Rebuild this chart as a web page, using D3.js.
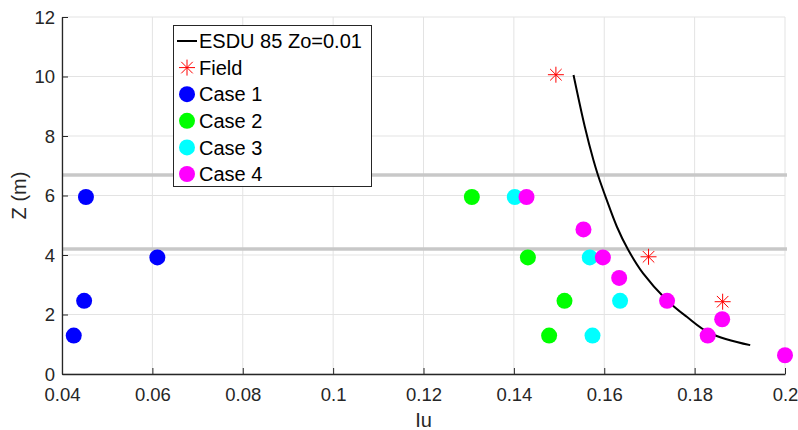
<!DOCTYPE html>
<html>
<head>
<meta charset="utf-8">
<script src="https://cdn.jsdelivr.net/npm/d3@7"></script>
<style>
  html, body { margin: 0; padding: 0; background: #fff; }
  svg { display: block; font-family: "Liberation Sans", Arial, sans-serif; }
</style>
</head>
<body>
<svg id="chart" width="798" height="430"></svg>
<script>
// Turbulence intensity profiles: Iu against height Z
const xTicks = [0.04, 0.06, 0.08, 0.1, 0.12, 0.14, 0.16, 0.18, 0.2];
const yTicks = [0, 2, 4, 6, 8, 10, 12];

// ESDU 85 reference curve (Zo = 0.01)
const esduIu = [0.1532, 0.1557, 0.1576, 0.1586, 0.1605, 0.1628, 0.1652, 0.1686, 0.1738, 0.1782, 0.1834, 0.1923];
const esduZ  = [10.05, 8.31, 7.19, 6.69, 5.87, 4.95, 4.20, 3.38, 2.49, 1.93, 1.37, 0.97];

// Field measurements
const fieldIu = [0.1493, 0.1698, 0.1862];
const fieldZ  = [10.06, 3.94, 2.43];

// Simulation cases
const case1Iu = [0.0453, 0.0611, 0.0449, 0.0426];
const case1Z  = [5.95, 3.92, 2.46, 1.29];
const case2Iu = [0.1307, 0.1431, 0.1512, 0.1478];
const case2Z  = [5.95, 3.92, 2.46, 1.29];
const case3Iu = [0.1402, 0.1568, 0.1635, 0.1574];
const case3Z  = [5.95, 3.92, 2.46, 1.29];
const case4Iu = [0.1428, 0.1554, 0.1597, 0.1633, 0.1739, 0.1861, 0.1829, 0.2000];
const case4Z  = [5.95, 4.86, 3.92, 3.23, 2.46, 1.84, 1.29, 0.63];

// Horizontal reference heights
const refZ = [6.69, 4.2];

const cases = [
  { name: "Case 1", iu: case1Iu, z: case1Z, color: "#0000ff" },
  { name: "Case 2", iu: case2Iu, z: case2Z, color: "#00ff00" },
  { name: "Case 3", iu: case3Iu, z: case3Z, color: "#00ffff" },
  { name: "Case 4", iu: case4Iu, z: case4Z, color: "#ff00ff" }
];

const svg = d3.select("#chart");
const plotL = 62, plotR = 785, plotT = 17, plotB = 374;

const x = d3.scaleLinear().domain([0.04, 0.2]).range([plotL, plotR]);
const y = d3.scaleLinear().domain([0, 12]).range([plotB, plotT]);

const axisColor = "#262626";
const tickFont = 18.5;

// Grid
const grid = svg.append("g");
grid.selectAll("line.gx").data(xTicks).join("line")
  .attr("x1", d => x(d)).attr("x2", d => x(d))
  .attr("y1", plotT).attr("y2", plotB)
  .attr("stroke", "#e3e3e3").attr("stroke-width", 1);
grid.selectAll("line.gy").data(yTicks).join("line")
  .attr("x1", plotL).attr("x2", plotR)
  .attr("y1", d => y(d)).attr("y2", d => y(d))
  .attr("stroke", "#e3e3e3").attr("stroke-width", 1);

// Reference height lines
svg.append("g").selectAll("line").data(refZ).join("line")
  .attr("x1", plotL).attr("x2", plotR + 2)
  .attr("y1", d => y(d)).attr("y2", d => y(d))
  .attr("stroke", "#c8c8c8").attr("stroke-width", 3.5);

// Axes
const xAxis = d3.axisBottom(x).tickValues(xTicks).tickSizeInner(-6).tickSizeOuter(0)
  .tickFormat(d => String(+d.toFixed(2)));
const yAxis = d3.axisLeft(y).tickValues(yTicks).tickSizeInner(-6).tickSizeOuter(0);

const gx = svg.append("g").attr("transform", `translate(0,${plotB})`).call(xAxis);
gx.select(".domain").attr("stroke", axisColor).attr("stroke-width", 1.3);
gx.selectAll(".tick line").attr("stroke", axisColor);
gx.selectAll(".tick text").attr("fill", axisColor).attr("font-size", tickFont)
  .attr("font-family", "Liberation Sans, Arial, sans-serif").attr("y", 26.5).attr("dy", 0);

const gy = svg.append("g").attr("transform", `translate(${plotL},0)`).call(yAxis);
gy.select(".domain").attr("stroke", axisColor).attr("stroke-width", 1.3);
gy.selectAll(".tick line").attr("stroke", axisColor);
gy.selectAll(".tick text").attr("fill", axisColor).attr("font-size", tickFont)
  .attr("font-family", "Liberation Sans, Arial, sans-serif").attr("x", -7).attr("dy", "0.34em");

// Axis labels
svg.append("text").attr("x", (plotL + plotR) / 2).attr("y", 427)
  .attr("text-anchor", "middle").attr("font-size", 20).attr("fill", axisColor).text("Iu");
svg.append("text").attr("transform", `translate(26,${(plotT + plotB) / 2}) rotate(-90)`)
  .attr("text-anchor", "middle").attr("font-size", 20).attr("fill", axisColor).text("Z (m)");

// ESDU curve
const esdu = esduIu.map((v, i) => [v, esduZ[i]]);
svg.append("path").datum(esdu)
  .attr("d", d3.line().x(d => x(d[0])).y(d => y(d[1])).curve(d3.curveCatmullRom.alpha(0.5)))
  .attr("fill", "none").attr("stroke", "#000").attr("stroke-width", 2);

// Star marker (plus + cross)
function star(g, cx, cy, r) {
  const s = g.append("g").attr("transform", `translate(${cx},${cy})`)
    .attr("stroke", "#ff0000").attr("stroke-width", 1);
  const k = r * 0.72;
  s.append("line").attr("x1", -r).attr("x2", r).attr("y1", 0).attr("y2", 0);
  s.append("line").attr("x1", 0).attr("x2", 0).attr("y1", -r).attr("y2", r);
  s.append("line").attr("x1", -k).attr("x2", k).attr("y1", -k).attr("y2", k);
  s.append("line").attr("x1", -k).attr("x2", k).attr("y1", k).attr("y2", -k);
}

// Case markers
cases.forEach(c => {
  svg.append("g").selectAll("circle").data(c.iu.map((v, i) => [v, c.z[i]])).join("circle")
    .attr("cx", d => x(d[0])).attr("cy", d => y(d[1])).attr("r", 8)
    .attr("fill", c.color);
});

// Field markers
const fg = svg.append("g");
fieldIu.forEach((v, i) => star(fg, x(v), y(fieldZ[i]), 8));

// Legend
const lg = svg.append("g");
const lx = 173.5, ly = 25.5, lw = 198, lh = 161;
lg.append("rect").attr("x", lx).attr("y", ly).attr("width", lw).attr("height", lh)
  .attr("fill", "#fff").attr("stroke", "#262626").attr("stroke-width", 1);
const rowY = i => 41 + i * 26.6;
const textX = 199;
const legFont = 20;
lg.append("line").attr("x1", 177).attr("x2", 197).attr("y1", rowY(0)).attr("y2", rowY(0))
  .attr("stroke", "#000").attr("stroke-width", 2);
lg.append("text").attr("x", textX).attr("y", rowY(0)).attr("dy", "0.36em")
  .attr("font-size", legFont).attr("fill", "#000").text("ESDU 85 Zo=0.01");
star(lg, 187, rowY(1), 8);
lg.append("text").attr("x", textX).attr("y", rowY(1)).attr("dy", "0.36em")
  .attr("font-size", legFont).attr("fill", "#000").text("Field");
cases.forEach((c, i) => {
  lg.append("circle").attr("cx", 187).attr("cy", rowY(i + 2)).attr("r", 8).attr("fill", c.color);
  lg.append("text").attr("x", textX).attr("y", rowY(i + 2)).attr("dy", "0.36em")
    .attr("font-size", legFont).attr("fill", "#000").text(c.name);
});
</script>
</body>
</html>
